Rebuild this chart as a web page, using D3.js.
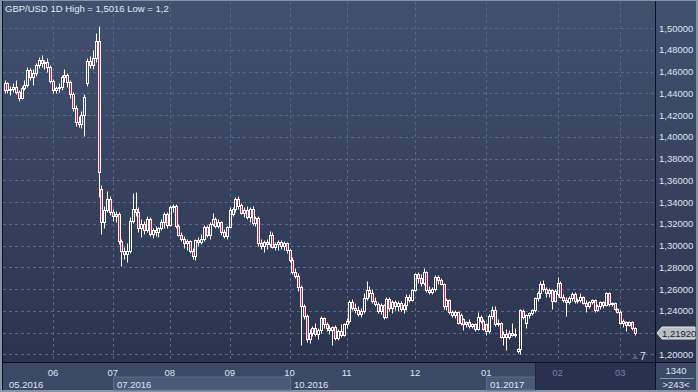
<!DOCTYPE html>
<html>
<head>
<meta charset="utf-8">
<script src="https://cdn.jsdelivr.net/npm/d3@7"></script>
<style>
  body { margin: 0; background: #8692a6; }
  svg { display: block; font-family: "Liberation Sans", Arial, sans-serif; }
</style>
</head>
<body>
<div id="chart"></div>
<script>
const w = 698;
const h = 392;

// daily candles [open, high, low, close], May 2016 .. Mar 2017
const candles = [
  [1.443,1.452,1.440,1.449],[1.449,1.450,1.440,1.443],[1.443,1.447,1.438,1.444],[1.444,1.449,1.441,1.446],
  [1.446,1.452,1.439,1.441],[1.441,1.443,1.433,1.436],[1.436,1.447,1.435,1.445],[1.445,1.452,1.443,1.448],
  [1.448,1.464,1.446,1.461],[1.461,1.463,1.452,1.455],[1.455,1.462,1.448,1.459],[1.459,1.468,1.456,1.466],
  [1.466,1.473,1.463,1.471],[1.471,1.475,1.464,1.468],[1.468,1.471,1.462,1.469],[1.469,1.472,1.460,1.464],
  [1.464,1.466,1.449,1.451],[1.451,1.453,1.440,1.443],[1.443,1.447,1.440,1.445],[1.445,1.449,1.441,1.446],
  [1.446,1.457,1.443,1.455],[1.455,1.462,1.450,1.457],[1.457,1.459,1.446,1.450],[1.450,1.452,1.436,1.439],
  [1.439,1.441,1.424,1.426],[1.426,1.429,1.410,1.414],[1.414,1.419,1.409,1.412],[1.412,1.424,1.408,1.420],
  [1.420,1.439,1.401,1.437],[1.449,1.472,1.447,1.470],[1.470,1.474,1.463,1.466],[1.466,1.480,1.462,1.472],
  [1.472,1.495,1.469,1.488],[1.488,1.5016,1.345,1.368],[1.352,1.356,1.311,1.322],[1.322,1.336,1.316,1.333],
  [1.333,1.350,1.331,1.343],[1.343,1.346,1.328,1.331],[1.331,1.334,1.323,1.327],[1.327,1.332,1.322,1.329],
  [1.329,1.331,1.301,1.304],[1.304,1.306,1.281,1.295],[1.295,1.299,1.288,1.292],[1.292,1.302,1.285,1.295],
  [1.295,1.326,1.293,1.323],[1.323,1.348,1.321,1.334],[1.334,1.349,1.327,1.331],[1.331,1.335,1.312,1.316],
  [1.316,1.324,1.308,1.320],[1.320,1.323,1.311,1.314],[1.314,1.327,1.312,1.324],[1.324,1.326,1.309,1.311],
  [1.311,1.316,1.307,1.314],[1.314,1.318,1.309,1.312],[1.312,1.317,1.308,1.316],[1.316,1.324,1.314,1.322],
  [1.322,1.331,1.316,1.329],[1.329,1.331,1.316,1.319],[1.319,1.337,1.318,1.335],[1.335,1.3383,1.331,1.336],
  [1.336,1.338,1.316,1.318],[1.318,1.320,1.309,1.310],[1.310,1.312,1.304,1.306],[1.306,1.309,1.298,1.302],
  [1.302,1.306,1.296,1.304],[1.304,1.305,1.293,1.295],[1.295,1.298,1.288,1.290],[1.290,1.306,1.287,1.305],
  [1.305,1.308,1.300,1.303],[1.303,1.311,1.301,1.306],[1.306,1.319,1.304,1.317],[1.317,1.319,1.308,1.310],
  [1.310,1.322,1.306,1.320],[1.320,1.3297,1.318,1.324],[1.324,1.326,1.316,1.318],[1.318,1.324,1.316,1.322],
  [1.322,1.323,1.310,1.312],[1.312,1.315,1.307,1.309],[1.309,1.318,1.306,1.317],[1.317,1.335,1.316,1.333],
  [1.329,1.335,1.327,1.334],[1.334,1.3445,1.331,1.343],[1.343,1.3456,1.334,1.336],[1.337,1.339,1.329,1.330],
  [1.330,1.335,1.326,1.333],[1.333,1.336,1.324,1.326],[1.326,1.335,1.322,1.334],[1.334,1.336,1.319,1.321],
  [1.321,1.327,1.318,1.325],[1.325,1.327,1.300,1.302],[1.302,1.306,1.297,1.300],[1.300,1.305,1.294,1.303],
  [1.303,1.306,1.297,1.301],[1.301,1.313,1.299,1.310],[1.310,1.312,1.298,1.299],[1.299,1.303,1.296,1.301],
  [1.301,1.305,1.296,1.303],[1.303,1.305,1.297,1.300],[1.300,1.304,1.296,1.302],[1.302,1.303,1.293,1.296],
  [1.296,1.297,1.285,1.287],[1.287,1.289,1.274,1.276],[1.276,1.279,1.270,1.272],[1.272,1.275,1.258,1.262],
  [1.262,1.264,1.209,1.244],[1.244,1.246,1.232,1.235],[1.235,1.237,1.211,1.214],[1.214,1.223,1.210,1.220],
  [1.220,1.226,1.217,1.224],[1.224,1.229,1.217,1.219],[1.219,1.224,1.214,1.222],[1.222,1.235,1.220,1.233],
  [1.233,1.234,1.224,1.228],[1.228,1.230,1.221,1.224],[1.224,1.227,1.219,1.222],[1.222,1.226,1.209,1.225],
  [1.225,1.227,1.213,1.215],[1.215,1.223,1.213,1.221],[1.221,1.228,1.216,1.218],[1.218,1.229,1.217,1.228],
  [1.228,1.233,1.224,1.231],[1.231,1.250,1.229,1.248],[1.248,1.251,1.241,1.243],[1.243,1.247,1.238,1.241],
  [1.241,1.244,1.235,1.237],[1.237,1.243,1.234,1.240],[1.240,1.256,1.238,1.252],[1.252,1.267,1.250,1.259],
  [1.259,1.263,1.253,1.256],[1.256,1.260,1.247,1.249],[1.249,1.253,1.244,1.246],[1.246,1.248,1.238,1.240],
  [1.240,1.247,1.237,1.245],[1.245,1.246,1.232,1.234],[1.234,1.253,1.233,1.251],[1.251,1.253,1.240,1.243],
  [1.243,1.250,1.238,1.248],[1.248,1.250,1.241,1.244],[1.244,1.249,1.240,1.247],[1.247,1.249,1.240,1.242],
  [1.242,1.247,1.238,1.245],[1.245,1.255,1.241,1.253],[1.253,1.255,1.248,1.250],[1.250,1.260,1.249,1.259],
  [1.259,1.275,1.258,1.274],[1.274,1.276,1.266,1.270],[1.270,1.274,1.263,1.266],[1.266,1.279,1.264,1.276],
  [1.276,1.277,1.257,1.259],[1.259,1.263,1.255,1.257],[1.257,1.262,1.255,1.260],[1.260,1.273,1.258,1.271],
  [1.271,1.273,1.265,1.268],[1.268,1.270,1.264,1.265],[1.265,1.266,1.242,1.244],[1.244,1.252,1.241,1.250],
  [1.250,1.251,1.237,1.239],[1.239,1.241,1.234,1.236],[1.236,1.241,1.233,1.239],[1.239,1.240,1.228,1.229],
  [1.229,1.238,1.227,1.236],[1.232,1.233,1.2225,1.228],[1.228,1.231,1.225,1.230],[1.230,1.232,1.224,1.226],
  [1.226,1.229,1.224,1.228],[1.228,1.229,1.221,1.223],[1.223,1.239,1.222,1.234],[1.234,1.236,1.229,1.231],
  [1.231,1.232,1.222,1.223],[1.228,1.229,1.218,1.221],[1.221,1.237,1.220,1.235],[1.235,1.244,1.232,1.241],
  [1.241,1.244,1.226,1.228],[1.228,1.232,1.226,1.229],[1.229,1.230,1.215,1.216],[1.216,1.221,1.209,1.219],
  [1.219,1.223,1.204,1.216],[1.216,1.222,1.214,1.220],[1.220,1.229,1.217,1.218],[1.218,1.224,1.216,1.219],
  [1.203,1.206,1.201,1.205],[1.205,1.242,1.200,1.241],[1.240,1.242,1.232,1.234],[1.229,1.237,1.224,1.236],
  [1.236,1.239,1.233,1.238],[1.238,1.242,1.236,1.241],[1.241,1.253,1.239,1.252],[1.252,1.258,1.249,1.256],
  [1.256,1.267,1.252,1.265],[1.265,1.268,1.258,1.260],[1.260,1.262,1.253,1.256],[1.256,1.261,1.253,1.259],
  [1.259,1.260,1.2415,1.249],[1.249,1.260,1.248,1.258],[1.255,1.271,1.254,1.266],[1.266,1.267,1.252,1.253],
  [1.253,1.255,1.248,1.250],[1.250,1.253,1.235,1.248],[1.248,1.254,1.246,1.252],[1.252,1.257,1.249,1.255],
  [1.255,1.257,1.247,1.249],[1.249,1.252,1.247,1.250],[1.250,1.256,1.248,1.253],[1.253,1.254,1.246,1.247],
  [1.247,1.250,1.239,1.244],[1.244,1.249,1.243,1.248],[1.248,1.251,1.246,1.250],[1.250,1.251,1.239,1.241],
  [1.241,1.246,1.240,1.244],[1.244,1.249,1.242,1.248],[1.248,1.249,1.243,1.245],[1.245,1.257,1.244,1.256],
  [1.256,1.2577,1.244,1.246],[1.246,1.248,1.244,1.247],[1.247,1.248,1.241,1.242],[1.242,1.243,1.238,1.239],
  [1.239,1.241,1.228,1.229],[1.229,1.232,1.225,1.231],[1.230,1.231,1.221,1.227],[1.227,1.231,1.226,1.230],
  [1.230,1.231,1.2225,1.224],[1.224,1.225,1.218,1.2192]
];

const priceTicks = [1.20, 1.22, 1.24, 1.26, 1.28, 1.30, 1.32, 1.34, 1.36, 1.38, 1.40, 1.42, 1.44, 1.46, 1.48, 1.50];
const monthLabels = ['06', '07', '08', '09', '10', '11', '12', '01', '02', '03'];
const monthStart = [17, 38, 58, 79, 100, 120, 144, 169, 194, 216];
const quarterLabels = ['05.2016', '07.2016', '10.2016', '01.2017'];
const quarterStart = [0, 38, 100, 169];
const navStart = 186;          // bar where the darker navigator band begins
const lastPrice = 1.2192;
const title = 'GBP/USD 1D High = 1,5016 Low = 1,2';

const plot = {l: 3, r: 655, t: 2, b: 362};

const fmt = d3.formatLocale({decimal: ',', thousands: '.', grouping: [3], currency: ['', '']}).format('.5f');

const svg = d3.select('#chart')
  .append('svg')
  .attr('width', w)
  .attr('height', h);

const defs = svg.append('defs');
const grad = defs.append('linearGradient')
  .attr('id', 'bg')
  .attr('x1', 0).attr('y1', 0).attr('x2', 0).attr('y2', 1);
grad.append('stop').attr('offset', '0%').attr('stop-color', '#425070');
grad.append('stop').attr('offset', '100%').attr('stop-color', '#29324c');

svg.append('rect')
  .attr('x', 0).attr('y', 0).attr('width', w).attr('height', h)
  .attr('fill', '#8692a6');

svg.append('rect')
  .attr('x', 2).attr('y', 1).attr('width', w - 4).attr('height', h - 3)
  .attr('fill', 'url(#bg)');

const x = d3.scaleLinear().domain([0, candles.length - 1]).range([4.5, 634.5]);
const y = d3.scaleLinear().domain([1.20, 1.50]).range([354.3, 28]);
const px = v => Math.round(v) + 0.5;

// grid
svg.append('g')
  .selectAll('line')
  .data(priceTicks)
  .join('line')
  .attr('x1', plot.l).attr('x2', plot.r)
  .attr('y1', d => px(y(d))).attr('y2', d => px(y(d)))
  .attr('stroke', '#58678a')
  .attr('stroke-dasharray', '3,3');

svg.append('g')
  .selectAll('line')
  .data(monthStart)
  .join('line')
  .attr('x1', d => px(x(d))).attr('x2', d => px(x(d)))
  .attr('y1', plot.t).attr('y2', plot.b)
  .attr('stroke', '#58678a')
  .attr('stroke-dasharray', '3,3');

// candles
const c = svg.append('g')
  .selectAll('g')
  .data(candles)
  .join('g');

c.each(function (d, i) {
  const g = d3.select(this);
  const [o, hi, lo, cl] = d;
  const cx = px(x(i));
  const top = px(y(Math.max(o, cl)));
  let bot = px(y(Math.min(o, cl)));
  if (bot - top < 1) bot = top + 1;
  g.append('line')
    .attr('x1', cx).attr('x2', cx)
    .attr('y1', px(y(hi))).attr('y2', top)
    .attr('stroke', '#fff');
  g.append('line')
    .attr('x1', cx).attr('x2', cx)
    .attr('y1', bot).attr('y2', px(y(lo)))
    .attr('stroke', '#fff');
  g.append('rect')
    .attr('x', cx - 1).attr('width', 2)
    .attr('y', top).attr('height', bot - top)
    .attr('fill', cl < o ? '#e8163e' : 'none')
    .attr('stroke', '#fff');
});

// right price axis (the label under the last-price tag is hidden, as in the terminal)
const ly = Math.round(y(lastPrice));
const yAxis = d3.axisRight(y)
  .tickValues(priceTicks.filter(t => Math.abs(y(t) - ly) > 8))
  .tickSize(0)
  .tickPadding(0)
  .tickFormat(fmt);

svg.append('g')
  .attr('transform', 'translate(659,0)')
  .call(yAxis)
  .call(g => g.select('.domain').remove())
  .call(g => g.selectAll('text')
    .attr('fill', '#dde6f2')
    .attr('font-size', '9.5px')
    .attr('font-family', '"Liberation Sans", Arial, sans-serif'));

// last price tag
svg.append('path')
  .attr('d', `M657,${ly} L662,${ly - 6} L695,${ly - 6} L695,${ly + 6} L662,${ly + 6} Z`)
  .attr('fill', '#b9bec7')
  .attr('stroke', '#e6e8ec');
svg.append('text')
  .attr('x', 662).attr('y', ly + 3.5)
  .attr('font-size', '9.5px')
  .attr('fill', '#1e232e')
  .text(fmt(lastPrice));

// bottom time axis
svg.append('rect')
  .attr('x', plot.l).attr('y', plot.b).attr('width', w - 5).attr('height', h - plot.b - 2)
  .attr('fill', '#3c4966');

svg.append('g')
  .selectAll('rect')
  .data(quarterStart.filter((d, i) => i % 2 === 1))
  .join('rect')
  .attr('x', d => px(x(d)))
  .attr('y', 377)
  .attr('width', d => {
    const k = quarterStart.indexOf(d);
    const end = k + 1 < quarterStart.length ? x(quarterStart[k + 1]) : x(navStart);
    return Math.round(end) - Math.round(x(d));
  })
  .attr('height', 13)
  .attr('fill', '#4b5979')
  .attr('stroke', '#5d6b8c');

svg.append('rect')
  .attr('x', px(x(navStart))).attr('y', plot.b + 1)
  .attr('width', plot.r - px(x(navStart))).attr('height', h - plot.b - 3)
  .attr('fill', '#283250');
svg.append('line')
  .attr('x1', px(x(navStart))).attr('x2', px(x(navStart)))
  .attr('y1', plot.b + 1).attr('y2', h - 2)
  .attr('stroke', '#1d2540');

svg.append('g')
  .selectAll('text')
  .data(monthLabels)
  .join('text')
  .attr('x', (d, i) => x(monthStart[i]))
  .attr('y', 376)
  .attr('text-anchor', 'middle')
  .attr('font-size', '9.5px')
  .attr('fill', (d, i) => monthStart[i] >= navStart ? '#7283a6' : '#dde6f2')
  .text(d => d);

svg.append('g')
  .selectAll('text')
  .data(quarterLabels)
  .join('text')
  .attr('x', (d, i) => Math.round(x(quarterStart[i])) + 4)
  .attr('y', 388)
  .attr('font-size', '9.5px')
  .attr('fill', '#dde6f2')
  .text(d => d);

// bottom-right box
svg.append('rect')
  .attr('x', plot.r + 1).attr('y', plot.b).attr('width', w - plot.r - 3).attr('height', h - plot.b - 2)
  .attr('fill', '#3c4966');
svg.append('line')
  .attr('x1', 660).attr('x2', 694).attr('y1', 378.5).attr('y2', 378.5)
  .attr('stroke', '#8a97b0');
svg.append('text')
  .attr('x', 676).attr('y', 374).attr('text-anchor', 'middle')
  .attr('font-size', '9.5px').attr('fill', '#dde6f2')
  .text('1340');
svg.append('text')
  .attr('x', 676).attr('y', 388).attr('text-anchor', 'middle')
  .attr('font-size', '9.5px').attr('fill', '#dde6f2')
  .text('>243<');

// separators
svg.append('line')
  .attr('x1', 2.5).attr('x2', 2.5).attr('y1', 1).attr('y2', h - 2)
  .attr('stroke', '#0c1020');
svg.append('line')
  .attr('x1', plot.r + 0.5).attr('x2', plot.r + 0.5).attr('y1', 1).attr('y2', h - 2)
  .attr('stroke', '#0c1020');
svg.append('line')
  .attr('x1', 2).attr('x2', w - 2).attr('y1', plot.b + 0.5).attr('y2', plot.b + 0.5)
  .attr('stroke', '#0c1020');

// visible-bars marker
svg.append('path')
  .attr('d', 'M632,359 L635,355 L638,359 Z')
  .attr('fill', '#55627f');
svg.append('text')
  .attr('x', 640).attr('y', 360)
  .attr('font-size', '10.5px').attr('fill', '#dde6f2')
  .text('7');

// title
svg.append('text')
  .attr('x', 5).attr('y', 12)
  .attr('font-size', '9.5px')
  .attr('fill', '#e3eaf4')
  .text(title);
</script>
</body>
</html>
